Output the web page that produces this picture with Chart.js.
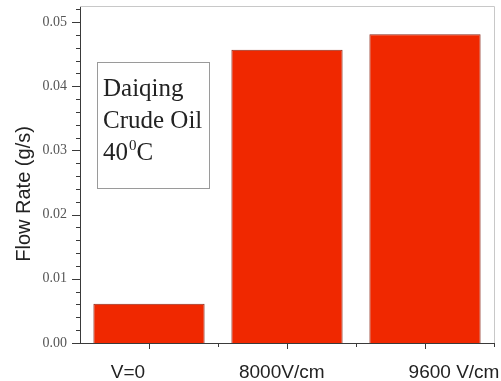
<!DOCTYPE html>
<html>
<head>
<meta charset="utf-8">
<script src="https://cdn.jsdelivr.net/npm/chart.js@4.4.0/dist/chart.umd.min.js"></script>
<style>
  body { margin: 0; background: #fff; }
  #wrap { width: 501px; height: 381px; }
</style>
</head>
<body>
<div id="wrap"><canvas id="flowChart" width="501" height="381"></canvas></div>
<script>
// =======================
// Data
// =======================
const categories = ['V=0', '8000V/cm', '9600 V/cm'];
const flowRates = [0.0061, 0.0457, 0.0481];
const noteLines = ['Daiqing', 'Crude Oil'];

// the labels in the picture sit a little off their ticks
const labelSpaces = [[0, 8], [0, 2], [11, 0]]; // [leading, trailing]

// axis / frame colours
const axisColor = '#3a3a3a';
const frameColor = '#c8c8c8';

// =======================
// Ticks, frame and text box (drawn after the chart)
// =======================
const decorPlugin = {
    id: 'decor',
    afterDraw(chart) {
        const { ctx, chartArea, scales } = chart;
        const x = scales.x, y = scales.y;
        ctx.save();

        // light frame on top and right
        ctx.strokeStyle = frameColor;
        ctx.lineWidth = 1;
        ctx.beginPath();
        ctx.moveTo(chartArea.left, chartArea.top + 0.5);
        ctx.lineTo(chartArea.right + 0.5, chartArea.top + 0.5);
        ctx.lineTo(chartArea.right + 0.5, chartArea.bottom);
        ctx.stroke();

        // y ticks: major every 0.01, minor every 0.002
        ctx.strokeStyle = axisColor;
        ctx.beginPath();
        y.ticks.forEach(t => {
            const py = Math.round(y.getPixelForValue(t.value)) + 0.5;
            const major = Math.round(t.value * 1000) % 10 === 0;
            ctx.moveTo(chartArea.left - (major ? 8 : 4), py);
            ctx.lineTo(chartArea.left + (major ? 1 : 0), py);
        });

        // x ticks: major at bars, minor between them
        categories.forEach((c, i) => {
            const px = Math.round(x.getPixelForValue(i)) + 0.5;
            ctx.moveTo(px, chartArea.bottom);
            ctx.lineTo(px, chartArea.bottom + 6);
        });
        for (let i = 1; i <= categories.length; i++) {
            const px = Math.round(x.getPixelForValue(i - 0.5)) + 0.5;
            ctx.moveTo(px, chartArea.bottom);
            ctx.lineTo(px, chartArea.bottom + 4);
        }
        ctx.stroke();

        // text box
        const bx = chartArea.left + 17, by = chartArea.top + 56;
        ctx.strokeStyle = '#9a9a9a';
        ctx.strokeRect(bx + 0.5, by + 0.5, 112, 126);

        ctx.fillStyle = '#222';
        ctx.textBaseline = 'alphabetic';
        ctx.textAlign = 'left';
        ctx.font = '25px "Liberation Serif"';
        noteLines.forEach((line, i) => ctx.fillText(line, bx + 6, by + 34 + i * 32));

        // 40 ^0 C
        const ly = by + 98;
        let tx = bx + 6;
        ctx.fillText('40', tx, ly);
        tx += ctx.measureText('40').width;
        ctx.font = '15px "Liberation Serif"';
        ctx.fillText('0', tx + 1, ly - 10);
        tx += ctx.measureText('0').width + 1;
        ctx.font = '25px "Liberation Serif"';
        ctx.fillText('C', tx, ly);

        ctx.restore();
    }
};

// =======================
// Bar chart
// =======================
const ctx = document.getElementById('flowChart').getContext('2d');
new Chart(ctx, {
    type: 'bar',
    data: {
        labels: categories,
        datasets: [{
            label: 'Flow Rate',
            data: flowRates,
            backgroundColor: 'rgb(240, 40, 0)',
            borderColor: 'rgb(140, 40, 25)',
            borderWidth: 1,
            categoryPercentage: 1,
            barPercentage: 0.806
        }]
    },
    options: {
        responsive: false,
        animation: false,
        layout: { padding: { top: 6, right: 7, left: 0, bottom: 0 } },
        plugins: {
            legend: { display: false },
            tooltip: { enabled: false }
        },
        scales: {
            x: {
                grid: { display: false },
                border: { display: true, color: axisColor, width: 1 },
                ticks: {
                    color: '#222',
                    font: { family: '"Liberation Sans"', size: 19 },
                    padding: 10,
                    maxRotation: 0,
                    autoSkip: false,
                    callback: (v, i) => ' '.repeat(labelSpaces[i][0]) + categories[i] + ' '.repeat(labelSpaces[i][1])
                },
                afterFit: scale => {
                    scale.height = 38;
                    scale.paddingLeft = 0;
                    scale.paddingRight = 0;
                }
            },
            y: {
                min: 0,
                max: 0.0525,
                grid: { display: false },
                border: { display: true, color: axisColor, width: 1 },
                ticks: {
                    stepSize: 0.002,
                    includeBounds: false,
                    autoSkip: false,
                    color: '#555',
                    font: { family: '"Liberation Serif"', size: 14 },
                    padding: 5,
                    callback: v => (Math.round(v * 1000) % 10 === 0 ? v.toFixed(2) : '')
                },
                title: {
                    display: true,
                    text: 'Flow Rate (g/s)       ',
                    color: '#222',
                    font: { family: '"Liberation Sans"', size: 20 },
                    padding: { top: 12, bottom: 0 }
                },
                afterFit: scale => {
                    scale.width = 80;
                    scale.paddingTop = 0;
                    scale.paddingBottom = 0;
                }
            }
        }
    },
    plugins: [decorPlugin]
});
</script>
</body>
</html>
